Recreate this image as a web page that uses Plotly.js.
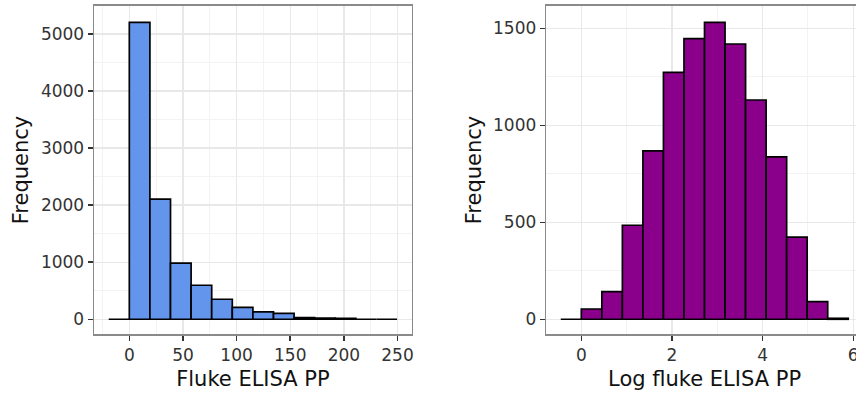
<!DOCTYPE html>
<html>
<head>
<meta charset="utf-8">
<script src="https://cdn.plot.ly/plotly-3.0.1.min.js"></script>
<style>
html, body { margin: 0; padding: 0; overflow: hidden; background: #fff; }
#chart { width: 870px; height: 398px; }
</style>
</head>
<body>
<div id="chart"></div>
<script>
// Left histogram: Fluke ELISA PP
var leftBinMids = [-9.6, 9.6, 28.8, 48, 67.2, 86.4, 105.6, 124.8, 144, 163.2, 182.4, 201.6, 220.8, 240];
var leftBinWidth = 19.2;
var leftCounts = [0, 5200, 2105, 982, 596, 351, 210, 128, 105, 30, 22, 15, 0, 0];
var leftXTicks = [0, 50, 100, 150, 200, 250];
var leftYTicks = [0, 1000, 2000, 3000, 4000, 5000];

// Right histogram: Log fluke ELISA PP
var rightBinMids = [-0.2265, 0.2265, 0.6795, 1.1325, 1.5855, 2.0385, 2.4915, 2.9445, 3.3975, 3.8505, 4.3035, 4.7565, 5.2095, 5.6625];
var rightBinWidth = 0.453;
var rightCounts = [0, 53, 143, 485, 869, 1274, 1448, 1532, 1420, 1131, 838, 424, 91, 5];
var rightXTicks = [0, 2, 4, 6];
var rightYTicks = [0, 500, 1000, 1500];

var leftTitleX = 'Fluke ELISA PP';
var rightTitleX = 'Log fluke ELISA PP';
var titleY = 'Frequency';

var FONT = 'DejaVu Sans, Arial, sans-serif';

function widths(arr, w) { return arr.map(function () { return w; }); }

var traces = [
  {
    type: 'bar', x: leftBinMids, y: leftCounts, width: widths(leftBinMids, leftBinWidth),
    marker: { color: '#6495ED', line: { color: '#000', width: 1.7 } },
    xaxis: 'x', yaxis: 'y', hoverinfo: 'x+y'
  },
  {
    type: 'bar', x: rightBinMids, y: rightCounts, width: widths(rightBinMids, rightBinWidth),
    marker: { color: '#8B008B', line: { color: '#000', width: 1.7 } },
    xaxis: 'x2', yaxis: 'y2', hoverinfo: 'x+y'
  }
];

function axisBase(extra) {
  var a = {
    showline: true, mirror: true, linecolor: '#8a8a8a', linewidth: 1.7,
    ticks: 'outside', ticklen: 5, tickwidth: 1.5, tickcolor: '#333',
    tickfont: { family: FONT, size: 17, color: '#333' },
    showgrid: true, gridcolor: '#e8e8e8', gridwidth: 1.3,
    zeroline: false, automargin: false, fixedrange: true
  };
  for (var k in extra) a[k] = extra[k];
  return a;
}

var layout = {
  width: 870, height: 398,
  margin: { l: 0, r: 0, t: 6, b: 64 },
  paper_bgcolor: '#fff', plot_bgcolor: '#fff',
  showlegend: false, bargap: 0,
  xaxis: axisBase({
    domain: [94.3 / 870, 411.5 / 870], anchor: 'y',
    range: [-32.64, 263.04], tickmode: 'array', tickvals: leftXTicks,
    minor: { dtick: 25, tick0: 0, showgrid: true, gridcolor: '#f3f3f3', gridwidth: 1 },
    title: { text: leftTitleX, font: { family: FONT, size: 21, color: '#111' }, standoff: 7 }
  }),
  yaxis: axisBase({
    domain: [0, 1], anchor: 'x',
    range: [-258, 5488], tickmode: 'array', tickvals: leftYTicks,
    minor: { dtick: 500, tick0: 0, showgrid: true, gridcolor: '#f3f3f3', gridwidth: 1 },
    title: { text: titleY, font: { family: FONT, size: 21, color: '#111' }, standoff: 6 }
  }),
  xaxis2: axisBase({
    domain: [546.4 / 870, 862.8 / 870], anchor: 'y2',
    range: [-0.77, 6.21], tickmode: 'array', tickvals: rightXTicks,
    minor: { dtick: 1, tick0: 0, showgrid: true, gridcolor: '#f3f3f3', gridwidth: 1 },
    title: { text: rightTitleX, font: { family: FONT, size: 21, color: '#111' }, standoff: 7 }
  }),
  yaxis2: axisBase({
    domain: [0, 1], anchor: 'x2',
    range: [-76, 1616], tickmode: 'array', tickvals: rightYTicks,
    minor: { dtick: 250, tick0: 0, showgrid: true, gridcolor: '#f3f3f3', gridwidth: 1 },
    title: { text: titleY, font: { family: FONT, size: 21, color: '#111' }, standoff: 6 }
  })
};

Plotly.newPlot('chart', traces, layout, { displayModeBar: false, staticPlot: true });
</script>
</body>
</html>
